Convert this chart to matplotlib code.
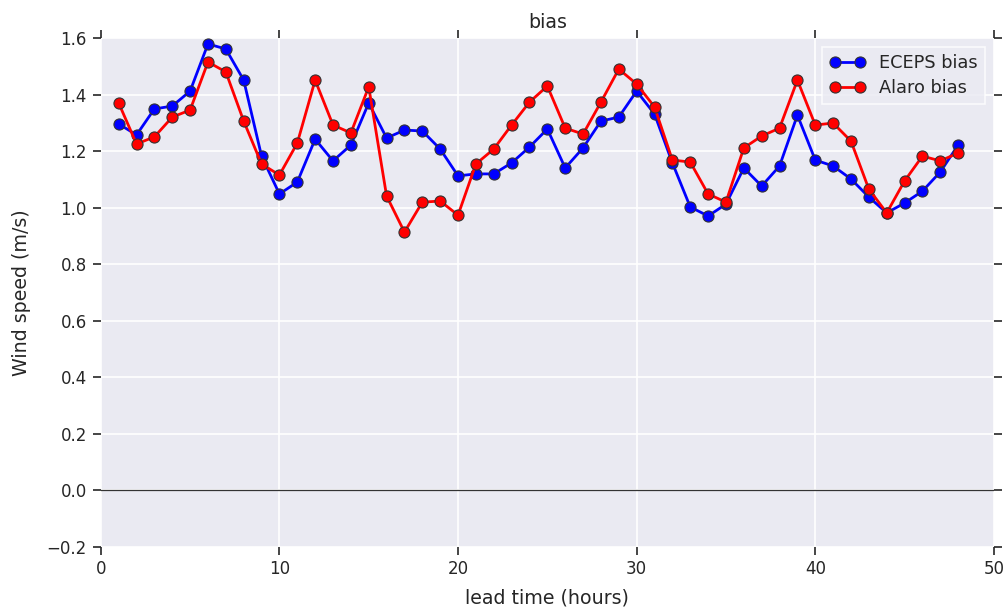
import matplotlib
matplotlib.use("Agg")
import matplotlib.pyplot as plt
import numpy as np

# lead times (hours)
lead_time = np.arange(1, 49)

# wind speed bias (m/s)
eceps_bias = [1.296, 1.257, 1.349, 1.359, 1.412, 1.579, 1.561, 1.451, 1.182, 1.048,
              1.090, 1.242, 1.165, 1.221, 1.370, 1.246, 1.274, 1.271, 1.207, 1.112,
              1.119, 1.119, 1.158, 1.214, 1.278, 1.140, 1.211, 1.306, 1.320, 1.412,
              1.331, 1.158, 1.002, 0.970, 1.012, 1.140, 1.076, 1.147, 1.327, 1.168,
              1.147, 1.101, 1.037, 0.981, 1.016, 1.058, 1.126, 1.221]
alaro_bias = [1.370, 1.225, 1.250, 1.320, 1.345, 1.515, 1.480, 1.306, 1.154, 1.115,
              1.228, 1.451, 1.292, 1.264, 1.427, 1.041, 0.913, 1.019, 1.023, 0.973,
              1.154, 1.207, 1.292, 1.373, 1.430, 1.281, 1.260, 1.373, 1.490, 1.437,
              1.356, 1.168, 1.161, 1.048, 1.019, 1.211, 1.253, 1.281, 1.451, 1.292,
              1.299, 1.235, 1.065, 0.981, 1.094, 1.182, 1.165, 1.193]

txt = "#262626"
plt.rcParams.update({
    "font.family": "DejaVu Sans",
    "axes.facecolor": "#EAEAF2",
    "axes.edgecolor": "white",
    "grid.color": "white",
    "grid.linewidth": 1.2,
    "xtick.color": txt,
    "ytick.color": txt,
    "text.color": txt,
    "axes.labelcolor": txt,
})

fig = plt.figure(figsize=(10.08, 6.08), dpi=100)
ax = fig.add_axes([0.100, 0.101, 0.886, 0.8365])

ax.grid(True, zorder=0)
ax.set_axisbelow(True)
for s in ax.spines.values():
    s.set_visible(False)

ax.axhline(0.0, color="#333333", lw=0.9, zorder=1)

ax.plot(lead_time, eceps_bias, "-o", color="blue", lw=2, ms=8,
        mec="#333333", mew=0.8, label="ECEPS bias", zorder=3)
ax.plot(lead_time, alaro_bias, "-o", color="red", lw=2, ms=8,
        mec="#333333", mew=0.8, label="Alaro bias", zorder=4)

ax.set_xlim(0, 50)
ax.set_ylim(-0.2, 1.6)
ax.set_xticks(np.arange(0, 51, 10))
ax.set_yticks(np.arange(-0.2, 1.61, 0.2))
ax.tick_params(direction="out", length=6, width=1.2, labelsize=12,
               top=True, right=True, pad=4)

ax.set_xlabel("lead time (hours)", fontsize=13.7, labelpad=7)
ax.set_ylabel("Wind speed (m/s)", fontsize=13.7, labelpad=11)
ax.set_title("bias", fontsize=13.7, pad=7)

leg = ax.legend(loc="upper right", fontsize=12.8, numpoints=2, frameon=True,
                fancybox=False, borderaxespad=0.5, handlelength=2.0,
                labelspacing=0.4)
leg.get_frame().set_facecolor("#EAEAF2")
leg.get_frame().set_edgecolor("white")
leg.get_frame().set_linewidth(1.2)

fig.savefig("out.png", dpi=100)
